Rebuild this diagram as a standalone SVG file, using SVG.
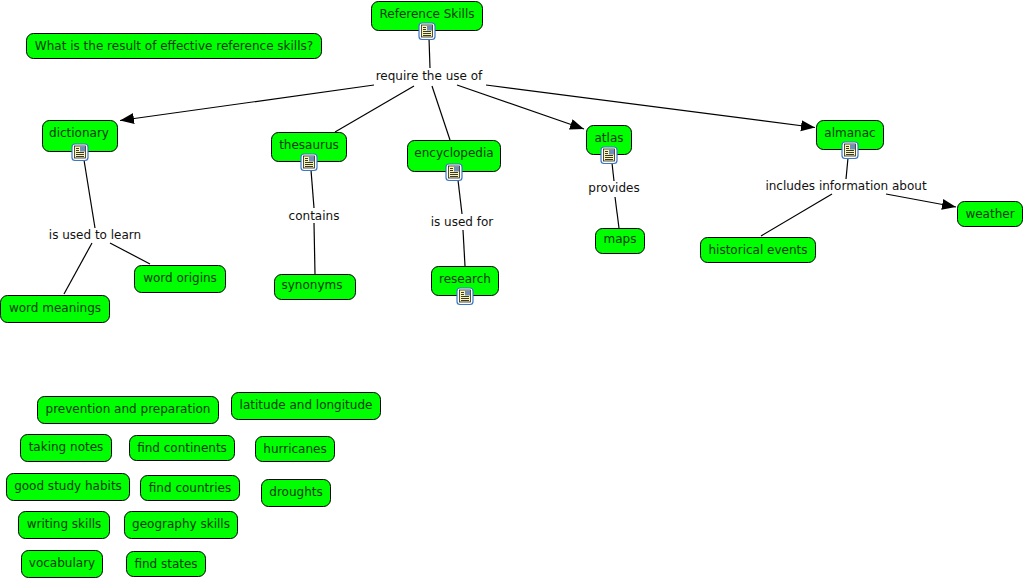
<svg xmlns="http://www.w3.org/2000/svg" width="1024" height="579" viewBox="0 0 1024 579">
<style>
text{font-family:"DejaVu Sans",Verdana,sans-serif;font-size:12px;text-anchor:middle}
.n rect.b{fill:#00ff00;stroke:#000;stroke-width:1}
.n text{fill:#0a3a0a}
.l text{fill:#111}
.c line{stroke:#000;stroke-width:1.2}
</style>
<defs>
<marker id="a" markerUnits="userSpaceOnUse" markerWidth="15" markerHeight="12" refX="14" refY="5.500" orient="auto"><path d="M0 0L14 5.500L0 11Z" fill="#000"/></marker>
<g id="i">
<rect x="-8" y="-8" width="16" height="16.500" rx="3" fill="#fff" stroke="#3a76c4" stroke-width="1.200"/>
<rect x="-5.500" y="-6" width="11" height="12" fill="#fbf6b0" stroke="#222" stroke-width=".8"/>
<path d="M-4-3.500h3M-4-1.500h3M-4 .5h8M-4 2.500h8M-4 4.500h8" stroke="#222" stroke-width=".9"/>
<rect x="0" y="-5.500" width="5" height="5" fill="#6f8fb8"/>
</g>
</defs>
<rect width="1024" height="579" fill="#fff"/>
<g class="c" id="connectors">
<line x1="429" y1="38" x2="430" y2="68"/>
<line x1="374" y1="85" x2="120" y2="120.500" marker-end="url(#a)"/>
<line x1="414" y1="86" x2="335" y2="132"/>
<line x1="432" y1="86" x2="450" y2="140"/>
<line x1="457" y1="85" x2="584" y2="129" marker-end="url(#a)"/>
<line x1="486" y1="85" x2="815" y2="127.500" marker-end="url(#a)"/>
<line x1="84" y1="160" x2="95" y2="228"/>
<line x1="92" y1="243" x2="64" y2="294"/>
<line x1="110" y1="243" x2="150" y2="264"/>
<line x1="311" y1="170" x2="314" y2="208"/>
<line x1="314" y1="223" x2="315" y2="274"/>
<line x1="458" y1="180" x2="462" y2="214"/>
<line x1="463" y1="230" x2="465" y2="266"/>
<line x1="612" y1="163" x2="614" y2="181"/>
<line x1="615" y1="197" x2="619" y2="228"/>
<line x1="848" y1="158" x2="846" y2="179"/>
<line x1="832" y1="194" x2="761" y2="236"/>
<line x1="886" y1="194" x2="956" y2="207" marker-end="url(#a)"/>
</g>
<g class="l" id="labels">
<g id="l1"><text x="429" y="80">require the use of</text></g>
<g id="l2"><text x="95" y="239">is used to learn</text></g>
<g id="l3"><text x="314" y="220">contains</text></g>
<g id="l4"><text x="462" y="226">is used for</text></g>
<g id="l5"><text x="614" y="192">provides</text></g>
<g id="l6"><text x="846" y="190">includes information about</text></g>
</g>
<g class="n" id="n1"><rect class="b" x="371.500" y="1.500" width="111" height="29" rx="7"/><text x="427" y="18">Reference Skills</text><use href="#i" x="427" y="31"/></g>
<g class="n" id="n2"><rect class="b" x="26.500" y="33.500" width="295" height="25" rx="7"/><text x="174" y="50">What is the result of effective reference skills?</text></g>
<g class="n" id="n3"><rect class="b" x="42.500" y="120.500" width="75" height="31" rx="7"/><text x="79" y="137">dictionary</text><use href="#i" x="80" y="152"/></g>
<g class="n" id="n4"><rect class="b" x="271.500" y="132.500" width="75" height="29" rx="7"/><text x="309" y="149">thesaurus</text><use href="#i" x="309" y="162"/></g>
<g class="n" id="n5"><rect class="b" x="407.500" y="140.500" width="93" height="31" rx="7"/><text x="454" y="157">encyclopedia</text><use href="#i" x="454" y="172"/></g>
<g class="n" id="n6"><rect class="b" x="586.500" y="125.500" width="45" height="29" rx="7"/><text x="609" y="142">atlas</text><use href="#i" x="609" y="155"/></g>
<g class="n" id="n7"><rect class="b" x="816.500" y="120.500" width="67" height="29" rx="7"/><text x="850" y="137">almanac</text><use href="#i" x="850" y="150"/></g>
<g class="n" id="n8"><rect class="b" x="957.500" y="201.500" width="65" height="25" rx="7"/><text x="990" y="218">weather</text></g>
<g class="n" id="n9"><rect class="b" x="700.500" y="237.500" width="115" height="25" rx="7"/><text x="758" y="254">historical events</text></g>
<g class="n" id="n10"><rect class="b" x=".5" y="295.500" width="109" height="27" rx="7"/><text x="55" y="312">word meanings</text></g>
<g class="n" id="n11"><rect class="b" x="134.500" y="265.500" width="91" height="27" rx="7"/><text x="180" y="282">word origins</text></g>
<g class="n" id="n12"><rect class="b" x="274.500" y="274.500" width="81" height="25" rx="7"/><text x="312" y="289">synonyms</text></g>
<g class="n" id="n13"><rect class="b" x="431.500" y="266.500" width="67" height="29" rx="7"/><text x="465" y="283">research</text><use href="#i" x="465" y="296"/></g>
<g class="n" id="n14"><rect class="b" x="595.500" y="228.500" width="49" height="25" rx="7"/><text x="620" y="243">maps</text></g>
<g class="n" id="n15"><rect class="b" x="37.500" y="396.500" width="181" height="27" rx="7"/><text x="128" y="413">prevention and preparation</text></g>
<g class="n" id="n16"><rect class="b" x="231.500" y="392.500" width="149" height="27" rx="7"/><text x="306" y="409">latitude and longitude</text></g>
<g class="n" id="n17"><rect class="b" x="20.500" y="434.500" width="91" height="27" rx="7"/><text x="66" y="451">taking notes</text></g>
<g class="n" id="n18"><rect class="b" x="129.500" y="435.500" width="105" height="25" rx="7"/><text x="182" y="452">find continents</text></g>
<g class="n" id="n19"><rect class="b" x="255.500" y="436.500" width="79" height="25" rx="7"/><text x="295" y="453">hurricanes</text></g>
<g class="n" id="n20"><rect class="b" x="6.500" y="473.500" width="123" height="27" rx="7"/><text x="68" y="490">good study habits</text></g>
<g class="n" id="n21"><rect class="b" x="140.500" y="475.500" width="99" height="25" rx="7"/><text x="190" y="492">find countries</text></g>
<g class="n" id="n22"><rect class="b" x="261.500" y="479.500" width="69" height="27" rx="7"/><text x="296" y="496">droughts</text></g>
<g class="n" id="n23"><rect class="b" x="18.500" y="511.500" width="91" height="27" rx="7"/><text x="64" y="528">writing skills</text></g>
<g class="n" id="n24"><rect class="b" x="124.500" y="511.500" width="113" height="27" rx="7"/><text x="181" y="528">geography skills</text></g>
<g class="n" id="n25"><rect class="b" x="21.500" y="550.500" width="81" height="27" rx="7"/><text x="62" y="567">vocabulary</text></g>
<g class="n" id="n26"><rect class="b" x="126.500" y="551.500" width="79" height="25" rx="7"/><text x="166" y="568">find states</text></g>
</svg>
